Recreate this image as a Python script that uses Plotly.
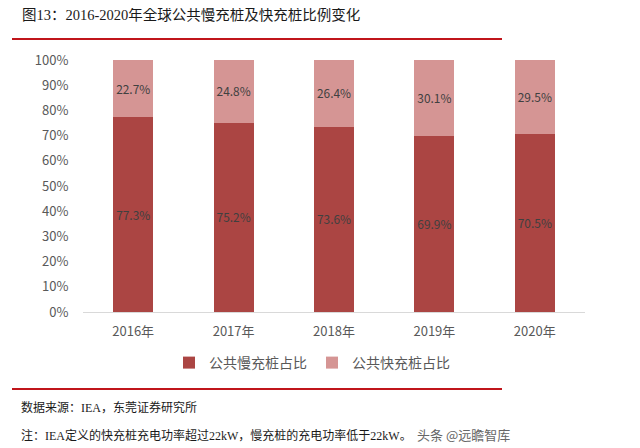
import plotly.graph_objects as go

years = ["2016年", "2017年", "2018年", "2019年", "2020年"]
slow_share = [77.3, 75.2, 73.6, 69.9, 70.5]
fast_share = [22.7, 24.8, 26.4, 30.1, 29.5]
series_names = ["公共慢充桩占比", "公共快充桩占比"]
y_ticks = [0, 10, 20, 30, 40, 50, 60, 70, 80, 90, 100]

FONT = "Noto Sans CJK SC"
SERIF = "Liberation Serif, Noto Sans CJK SC"
OFF = 8  # page body margin
W, H = 640 - OFF, 448 - OFF
L, T = 83 - OFF, 60 - OFF
R = W - (585 - OFF)
B = H - (312 - OFF)
pw, ph = W - L - R, H - T - B

def px(x):
    return (x - 83) / pw

def py(y):
    return (312 - y) / ph

fig = go.Figure()
fig.add_trace(go.Bar(
    x=years, y=slow_share, name=series_names[0],
    marker=dict(color="#AB4543", line=dict(width=0)),
    text=[f"{v:.1f}%" for v in slow_share], textposition="inside",
    insidetextanchor="middle", textangle=0,
    textfont=dict(family=FONT, size=13, color="#404040"),
))
fig.add_trace(go.Bar(
    x=years, y=fast_share, name=series_names[1],
    marker=dict(color="#D59594", line=dict(width=0)),
    text=[f"{v:.1f}%" for v in fast_share], textposition="inside",
    insidetextanchor="middle", textangle=0,
    textfont=dict(family=FONT, size=13, color="#404040"),
))

fig.update_layout(
    width=W, height=H,
    margin=dict(l=L, r=R, t=T, b=B),
    barmode="stack", bargap=0.6,
    plot_bgcolor="white", paper_bgcolor="white",
    font=dict(family=FONT, size=13, color="#595959"),
    uniformtext=dict(minsize=8, mode="show"),
    showlegend=True,
    legend=dict(orientation="h", x=px(312), xanchor="center", y=py(363), yanchor="middle",
                font=dict(family=FONT, size=14, color="#595959"),
                itemwidth=30, traceorder="normal"),
    xaxis=dict(showline=True, linecolor="#D9D9D9", linewidth=1,
               ticks="outside", ticklen=7, tickcolor="rgba(0,0,0,0)",
               tickfont=dict(family=FONT, size=13, color="#595959")),
    yaxis=dict(range=[0, 100], tickvals=y_ticks,
               ticktext=[f"{v}%" for v in y_ticks], showgrid=False,
               zeroline=False, showline=False,
               ticks="outside", ticklen=11, tickcolor="rgba(0,0,0,0)",
               tickfont=dict(family=FONT, size=13, color="#595959")),
)

fig.add_annotation(text="图13：2016-2020年全球公共慢充桩及快充桩比例变化",
                   xref="paper", yref="paper", x=px(21), y=py(15),
                   xanchor="left", yanchor="middle", showarrow=False, borderpad=0,
                   font=dict(family=SERIF, size=14.5, color="#1A1A1A"))
fig.add_annotation(text="数据来源：IEA，东莞证券研究所",
                   xref="paper", yref="paper", x=px(19), y=py(407),
                   xanchor="left", yanchor="middle", showarrow=False,
                   font=dict(family=SERIF, size=12, color="#1A1A1A"))
fig.add_annotation(text="注：IEA定义的快充桩充电功率超过22kW，慢充桩的充电功率低于22kW。",
                   xref="paper", yref="paper", x=px(19), y=py(435),
                   xanchor="left", yanchor="middle", showarrow=False,
                   font=dict(family=SERIF, size=12, color="#1A1A1A"))
fig.add_annotation(text="头条 @远瞻智库",
                   xref="paper", yref="paper", x=px(512), y=py(434),
                   xanchor="right", yanchor="middle", showarrow=False,
                   font=dict(family=FONT, size=13, color="#666666"))

for yy in (39, 389):
    fig.add_shape(type="line", xref="paper", yref="paper",
                  x0=px(12), x1=px(502), y0=py(yy), y1=py(yy),
                  line=dict(color="#C0151B", width=2))

fig.write_html("out.html")
